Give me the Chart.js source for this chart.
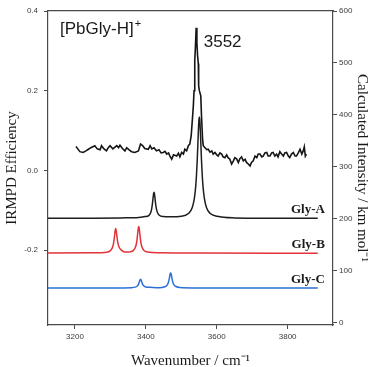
<!DOCTYPE html>
<html>
<head>
<meta charset="utf-8">
<script src="https://cdn.jsdelivr.net/npm/chart.js@4/dist/chart.umd.min.js"></script>
<style>
html,body{margin:0;padding:0;background:#fff;}
#c{display:block;}
</style>
</head>
<body>
<canvas id="c" width="371" height="367"></canvas>
<script>
// ---------- data ----------
const xTicks = [3200, 3400, 3600, 3800];
const leftTicks = [-0.2, 0.0, 0.2, 0.4];
const rightTicks = [0, 100, 200, 300, 400, 500, 600];

// experimental IRMPD trace
const expWavenumber = [3203,3208,3214,3223,3231,3238,3245,3256,3263,3271,3275,3282,3289,3294,3299,3307,3318,3323,3327,3334,3341,3346,3352,3360,3369,3379,3385,3391,3397,3407,3412,3417,3423,3430,3437,3443,3449,3454,3459,3464,3468,3473,3478,3487,3492,3496,3501,3506,3510,3515,3520,3524,3528,3531,3534,3536,3538,3540,3542,3544,3546,3548,3549,3551,3555,3557,3560,3562,3567,3572,3576,3581,3586,3590,3595,3600,3604,3609,3614,3618,3623,3628,3632,3637,3642,3647,3651,3656,3661,3665,3670,3675,3680,3684,3689,3694,3698,3703,3708,3713,3717,3722,3727,3731,3736,3741,3745,3750,3755,3759,3764,3769,3773,3778,3783,3788,3792,3797,3802,3806,3811,3816,3821,3825,3830,3835,3840,3844,3847,3850,3853];
const expEfficiency = [0.060,0.054,0.047,0.045,0.049,0.053,0.057,0.062,0.054,0.052,0.062,0.054,0.049,0.057,0.062,0.054,0.062,0.057,0.063,0.055,0.049,0.057,0.052,0.047,0.045,0.049,0.066,0.062,0.055,0.053,0.062,0.054,0.057,0.049,0.052,0.044,0.045,0.048,0.041,0.044,0.036,0.028,0.039,0.036,0.043,0.034,0.045,0.041,0.053,0.049,0.062,0.066,0.087,0.124,0.162,0.200,0.275,0.313,0.358,0.320,0.288,0.268,0.212,0.200,0.187,0.137,0.079,0.062,0.057,0.052,0.053,0.046,0.049,0.041,0.045,0.039,0.036,0.044,0.041,0.034,0.032,0.039,0.032,0.028,0.016,0.024,0.032,0.029,0.020,0.029,0.034,0.024,0.028,0.020,0.016,0.011,0.020,0.024,0.036,0.032,0.041,0.041,0.034,0.036,0.044,0.045,0.036,0.036,0.044,0.045,0.036,0.041,0.034,0.047,0.041,0.036,0.044,0.045,0.036,0.032,0.041,0.045,0.036,0.036,0.044,0.053,0.041,0.049,0.059,0.036,0.041];

// calculated spectra (offset, right axis, km/mol)
const glyAWavenumber = [3124,3250,3330,3380,3398,3408,3413,3416,3418,3420,3421,3422,3423,3424,3425,3426,3428,3430,3433,3438,3448,3470,3500,3521,3531,3537,3541,3543,3545,3547,3548,3549,3550,3551,3552,3553,3554,3555,3557,3559,3561,3565,3571,3581,3601,3651,3751,3885];
const glyA = [201.2,201.4,202,203,204.5,206.5,211,218,226,238,244,249,251.5,249.5,245,239,227,219,212,207,204.5,204,205,211,222,240,265,286,313,348,366,381,392,396,392,381,366,348,313,286,265,240,222,211,205,202,201.5,201.2];

const glyBWavenumber = [3124,3250,3290,3300,3305,3308,3310,3312,3313,3314,3315,3316,3317,3318,3320,3322,3325,3330,3340,3348,3355,3365,3370,3373,3375,3377,3378,3379,3380,3381,3382,3383,3385,3387,3390,3395,3405,3440,3550,3885];
const glyB = [134.3,134.8,136,139,143.8,150,158,168.8,175,179.5,181.5,179.5,175,169,158.5,151,145,140.5,136.6,136.3,136.7,139.5,144.5,151.3,159.8,171.8,178.3,183.3,185.3,183.3,178.3,171.8,159.7,151.2,144.4,139.3,136.2,134.9,134.3,134.1];

const glyCWavenumber = [3124,3300,3360,3370,3375,3378,3380,3382,3383,3384,3385,3386,3387,3388,3390,3392,3395,3400,3410,3430,3445,3455,3460,3463,3465,3467,3468,3469,3470,3471,3472,3473,3475,3477,3480,3485,3495,3550,3885];
const glyC = [67.1,67.3,67.8,68.8,70.5,72.7,75.6,79.6,81.8,83.4,84.1,83.4,81.9,79.7,75.8,73,70.8,69.2,68.4,67.7,68.2,70,72.8,76.6,81.5,88.3,92,94.9,96,94.9,92,88.3,81.5,76.6,72.8,70,68.1,67.3,67.1];

const seriesLabels = ['Gly-A', 'Gly-B', 'Gly-C'];
const peakLabel = '3552';
const peakWavenumber = 3552;

// ---------- build ----------
const pts = (xs, ys) => xs.map((x, i) => ({x: x, y: ys[i]}));
const AXIS = '#4a4a4a';
const TICKC = '#3a3a3a';
const SANS = '"Liberation Sans", Arial, sans-serif';
const SERIF = '"Liberation Serif", "Times New Roman", serif';

const calcColors = ['#1e1e1e', '#e2333a', '#2a70d8'];
const calcSets = [[glyAWavenumber, glyA], [glyBWavenumber, glyB], [glyCWavenumber, glyC]];

const datasets = [{
  label: 'IRMPD',
  data: pts(expWavenumber, expEfficiency),
  yAxisID: 'yL',
  borderColor: '#151515',
  borderWidth: 1.6,
  pointRadius: 0,
  tension: 0
}];
calcSets.forEach((s, i) => datasets.push({
  label: seriesLabels[i],
  data: pts(s[0], s[1]),
  yAxisID: 'yR',
  borderColor: calcColors[i],
  borderWidth: 1.5,
  pointRadius: 0,
  cubicInterpolationMode: 'monotone'
}));

const annot = {
  id: 'annot',
  afterDatasetsDraw(chart) {
    const ctx = chart.ctx;
    const xs = chart.scales.x, yR = chart.scales.yR, yL = chart.scales.yL;
    const ca = chart.chartArea;
    ctx.save();
    ctx.fillStyle = '#1a1a1a';
    ctx.textBaseline = 'alphabetic';
    // title
    ctx.font = '17px ' + SANS;
    ctx.textAlign = 'left';
    const tx = ca.left + 12, ty = ca.top + 23;
    ctx.fillText('[PbGly-H]', tx, ty);
    const w = ctx.measureText('[PbGly-H]').width;
    ctx.font = '11px ' + SANS;
    ctx.fillText('+', tx + w + 1, ty - 7);
    // peak label
    ctx.font = '17px ' + SANS;
    ctx.fillText(peakLabel, xs.getPixelForValue(peakWavenumber) + 4, yL.getPixelForValue(0.358) + 19);
    // series labels
    ctx.font = 'bold 13px ' + SERIF;
    ctx.textAlign = 'right';
    const last = [glyA, glyB, glyC].map(a => a[a.length - 1]);
    last.forEach((v, i) => {
      ctx.fillText(seriesLabels[i], xs.getPixelForValue(3905), yR.getPixelForValue(v) - 5);
    });
    ctx.restore();
  }
};

new Chart(document.getElementById('c'), {
  type: 'line',
  data: {datasets: datasets},
  options: {
    responsive: false,
    animation: false,
    devicePixelRatio: 1,
    layout: {padding: 0},
    plugins: {legend: {display: false}, tooltip: {enabled: false}},
    scales: {
      x: {
        type: 'linear', position: 'bottom', min: 3124, max: 3928,
        afterBuildTicks: s => { s.ticks = xTicks.map(v => ({value: v})); },
        afterFit: s => { s.height = 42; },
        grid: {drawOnChartArea: false, drawTicks: true, tickLength: 4, color: AXIS, lineWidth: 1},
        border: {display: true, color: AXIS, width: 1.2},
        ticks: {color: TICKC, font: {family: SANS, size: 8}, padding: 3, maxRotation: 0,
                callback: v => String(v)},
        title: {display: true, text: 'Wavenumber / cm\u207B\u00B9', color: '#1a1a1a',
                font: {family: SERIF, size: 15, lineHeight: 1}, padding: {top: 0, bottom: -2}}
      },
      x2: {
        type: 'linear', position: 'top', min: 3124, max: 3928,
        afterFit: s => { s.height = 11; },
        grid: {display: false, drawTicks: false},
        border: {display: true, color: AXIS, width: 1.2},
        ticks: {display: false}
      },
      yL: {
        type: 'linear', position: 'left', min: -0.388, max: 0.4,
        afterBuildTicks: s => { s.ticks = leftTicks.map(v => ({value: v})); },
        afterFit: s => { s.width = 48; },
        grid: {drawOnChartArea: false, drawTicks: true, tickLength: 4, color: AXIS},
        border: {display: true, color: AXIS, width: 1.2},
        ticks: {color: TICKC, font: {family: SANS, size: 8}, padding: 6,
                callback: v => v.toFixed(1)},
        title: {display: true, text: 'IRMPD Efficiency', color: '#1a1a1a',
                font: {family: SERIF, size: 15, lineHeight: 1.2}, padding: {top: 3, bottom: 0}}
      },
      yR: {
        type: 'linear', position: 'right', min: -4, max: 600,
        afterBuildTicks: s => { s.ticks = rightTicks.map(v => ({value: v})); },
        afterFit: s => { s.width = 38; },
        grid: {drawOnChartArea: false, drawTicks: true, tickLength: 4, color: AXIS},
        border: {display: true, color: AXIS, width: 1.2},
        ticks: {color: TICKC, font: {family: SANS, size: 8}, padding: 2,
                callback: v => String(v)},
        title: {display: true, text: 'Calculated Intensity / km mol\u207B\u00B9', color: '#1a1a1a',
                font: {family: SERIF, size: 15, lineHeight: 1.2}, padding: {top: 0, bottom: 0}}
      }
    }
  },
  plugins: [annot]
});
</script>
</body>
</html>
